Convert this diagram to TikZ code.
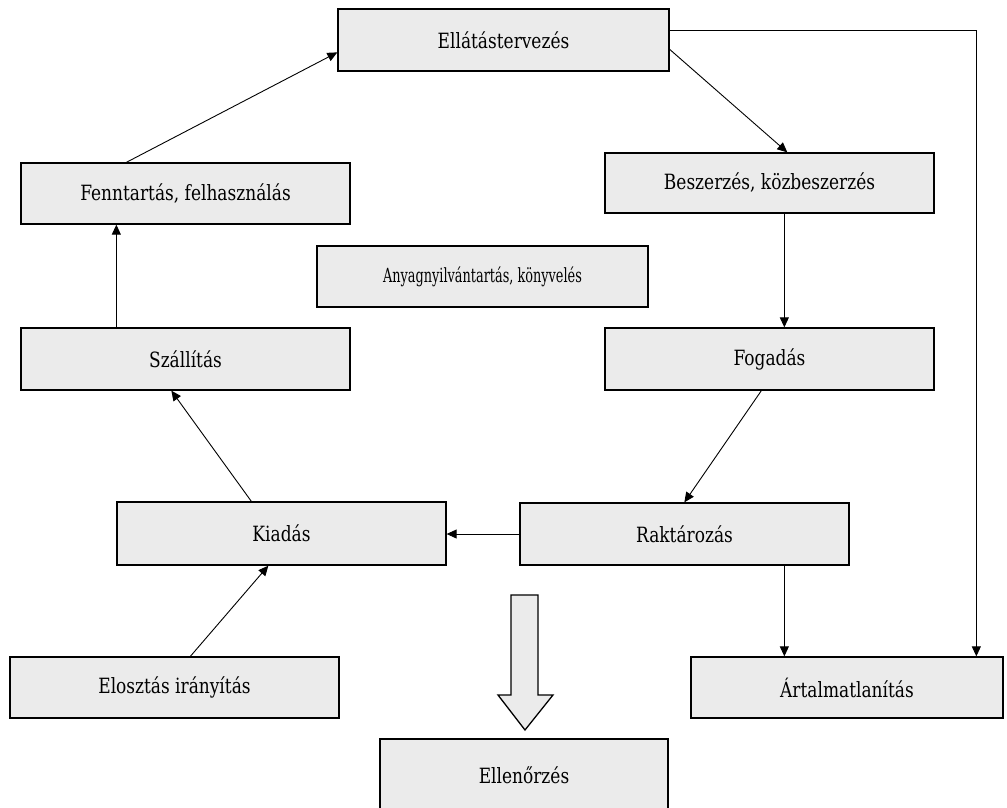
\documentclass[tikz,border=0pt]{standalone}
\usepackage{fontspec}
\setmainfont{DejaVu Serif}[FakeStretch=0.81]
\newfontfamily\narrowfont{DejaVu Serif}[FakeStretch=0.66]
\usetikzlibrary{arrows.meta,calc}
\definecolor{boxfill}{HTML}{EBEBEB}
\tikzset{
  stagebox/.style={draw=black, line width=1.3pt, fill=boxfill, inner sep=0pt,
    minimum height=62pt, minimum width=329pt,
    font=\fontsize{21}{24}\selectfont},
  link/.style={line width=0.9pt, -{Triangle[length=10pt,width=9pt]}},
  hollowarrow/.style={draw=black, line width=1.3pt, fill=boxfill}
}
\begin{document}
\begin{tikzpicture}[x=1pt, y=-1pt]
  \useasboundingbox (0,0) rectangle (1007,807);
  \fill[white] (0,0) rectangle (1007,807);

  % process stages
  \node[stagebox, minimum width=331pt] (ell)   at (503.5,40)   {Ellátástervezés};
  \node[stagebox, minimum height=60pt] (besz)  at (769.5,183)  {Beszerzés, közbeszerzés};
  \node[stagebox, minimum height=61pt] (fenn)  at (185.5,193.5){Fenntartás, felhasználás};
  \node[stagebox, minimum width=331pt, minimum height=61pt,
        font=\narrowfont\fontsize{19.5}{21}\selectfont] (anyag) at (482.5,276.5) {Anyagnyilvántartás, könyvelés};
  \node[stagebox] (szall) at (185.5,359)  {Szállítás};
  \node[stagebox] (fog)   at (769.5,359)  {Fogadás};
  \node[stagebox, minimum height=63pt] (kiad)  at (281.5,533.5){Kiadás};
  \node[stagebox] (rakt)  at (684.5,534)  {Raktározás};
  \node[stagebox, minimum height=61pt] (eloszt) at (174.5,687.5){Elosztás irányítás};
  \node[stagebox, minimum width=312pt, minimum height=61pt] (artal) at (847,687.5) {Ártalmatlanítás};
  \node[stagebox, minimum width=288pt, minimum height=72pt] (ellen) at (524,775) {Ellenőrzés};

  % flow connectors
  \draw[link] ([xshift=106pt]fenn.north west) -- ([yshift=-44pt]ell.north west);
  \draw[link] ([yshift=-41pt]ell.north east) -- ([xshift=183pt]besz.north west);
  \draw[link] ([yshift=-22pt]ell.north east) -| ([xshift=286pt]artal.north west);
  \draw[link] ([xshift=180pt]besz.south west) -- ([xshift=180pt]fog.north west);
  \draw[link] ([xshift=157pt]fog.south west) -- ([xshift=165pt]rakt.north west);
  \draw[link] (rakt.west) -- (rakt.west -| kiad.east);
  \draw[link] ([xshift=265pt]rakt.south west) -- ([xshift=94pt]artal.north west);
  \draw[link] ([xshift=135pt]kiad.north west) -- ([xshift=151pt]szall.south west);
  \draw[link] ([xshift=96pt]szall.north west) -- ([xshift=96pt]fenn.south west);
  \draw[link] ([xshift=181pt]eloszt.north west) -- ([xshift=152pt]kiad.south west);

  % broad hollow arrow pointing down to the control stage
  \draw[hollowarrow] (511,595) -- (538,595) -- (538,695) -- (553,695) -- (525,730)
    -- (498,695) -- (511,695) -- cycle;
\end{tikzpicture}
\end{document}
